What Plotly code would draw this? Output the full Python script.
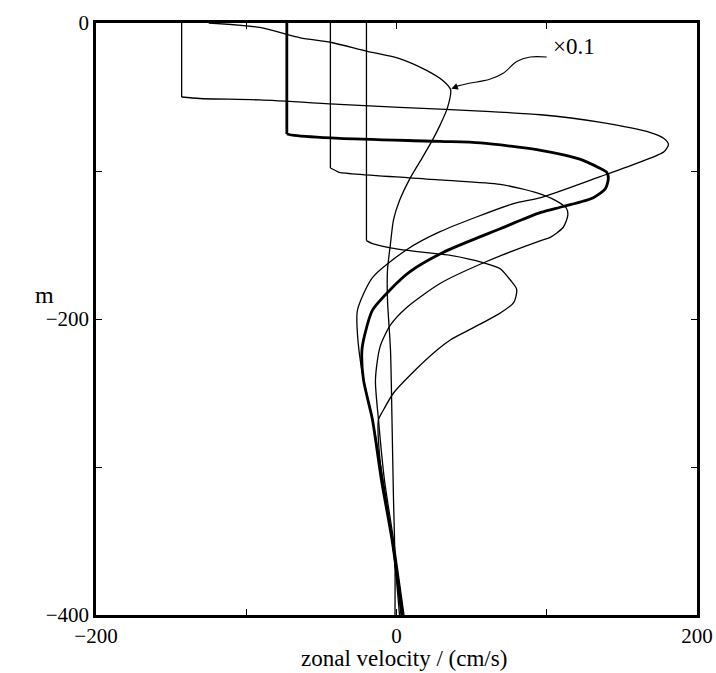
import plotly.graph_objects as go

# Profiles: zonal velocity (cm/s) vs depth (m); first two points = mixed-layer step
A_x = [-143, -143, -131, -91, -38, 2, 56, 96, 135, 169, 178, 181, 178, 162, 135, 96, 78, 29, 7, -16, -26, -26, -23, -16, -9, -3, 3]
A_d = [0, -50, -51, -52, -55, -57, -59.5, -62, -67, -74, -78, -82, -87, -94, -104, -118, -122, -141, -153, -172, -194, -210, -235, -268, -309, -349, -400]

B_x = [-73, -73, -68, -38, 29, 56, 96, 122, 135, 140, 141, 139, 131, 111, 96, 69, 31, 9, -4, -16, -21, -23, -22, -16, -10, -3, 4]
B_d = [0, -75, -76, -78, -80, -81, -86, -92, -98, -101, -105, -112, -118, -124, -128, -139, -155, -168, -180, -194, -210, -221, -241, -268, -309, -349, -400]

C_x = [-44, -44, -40, -38, 29, 69, 94, 106, 113, 114, 111, 102, 96, 58, 29, 7, -4, -11, -14, -12, -8, -2, 5]
C_d = [0, -98, -100, -101, -106, -109, -115, -120, -125, -130, -138, -145, -147, -162, -176, -192, -204, -219, -241, -268, -309, -349, -400]

D_x = [-20, -20, -16, 2, 36, 58, 69, 76, 80, 78, 69, 49, 36, 27, 9, -2, -9, -12, -11, -7, -2, 2]
D_d = [0, -147, -149, -153, -157, -162, -166, -174, -180, -189, -196, -207, -214, -221, -238, -250, -262, -268, -295, -322, -356, -400]

# curve plotted at 0.1 scale
E_x = [-125, -91, -64, -44, -20, 2, 20, 31, 36, 34, 29, 24, 16, 9, 2, -2, -4, -6, -6, -4, -3, -2, -1, -1]
E_d = [0, -3, -10, -13, -19, -24, -32, -39, -45, -57, -69, -79, -93, -105, -120, -133, -149, -167, -187, -221, -268, -322, -363, -400]

# curved pointer from the "x0.1" label to curve E
P_x = [100, 89, 80, 71, 62, 47, 39]
P_d = [-23, -23, -26, -34, -38, -41, -43]

x_ticks = [-200, -100, 0, 100, 200]
x_ticktext = ["\u2212200", "", "0", "", "200"]
y_ticks = [0, -100, -200, -300, -400]
y_ticktext = ["0", "", "\u2212200", "", "\u2212400"]

FONT = "Liberation Serif"

fig = go.Figure()
step_curves = [(A_x, A_d, 1.3), (B_x, B_d, 2.8), (C_x, C_d, 1.3), (D_x, D_d, 1.3)]
for xs, ds, w in step_curves:
    # mixed-layer step drawn straight, remainder smoothed
    fig.add_trace(go.Scatter(x=xs[:2], y=ds[:2], mode="lines",
                             line=dict(color="black", width=w),
                             showlegend=False, hoverinfo="skip"))
    fig.add_trace(go.Scatter(x=xs[1:], y=ds[1:], mode="lines",
                             line=dict(color="black", width=w, shape="spline", smoothing=0.7),
                             showlegend=False, hoverinfo="skip"))

fig.add_trace(go.Scatter(x=E_x, y=E_d, mode="lines",
                         line=dict(color="black", width=1.3, shape="spline", smoothing=0.7),
                         showlegend=False, hoverinfo="skip"))

fig.add_trace(go.Scatter(x=P_x, y=P_d, mode="lines",
                         line=dict(color="black", width=1.1, shape="spline", smoothing=1.0),
                         showlegend=False, hoverinfo="skip"))

fig.add_annotation(x=36.5, y=-44.5, ax=P_x[-1] + 2, ay=P_d[-1] + 0.3, xref="x", yref="y",
                   axref="x", ayref="y", text="", showarrow=True, arrowhead=2,
                   arrowsize=1.2, arrowwidth=1.1, arrowcolor="black", standoff=0)
fig.add_annotation(x=103, y=-16, xref="x", yref="y", text="\u00d70.1", showarrow=False,
                   xanchor="left", yanchor="middle", font=dict(family=FONT, size=23, color="black"))

fig.add_annotation(x=5, y=-0.073, xref="x", yref="paper",
                   text="zonal velocity / (cm/s)",
                   showarrow=False, xanchor="center", yanchor="middle",
                   font=dict(family=FONT, size=23, color="black"))
fig.add_annotation(x=-0.085, y=0.54, xref="paper", yref="paper", text="m",
                   showarrow=False, xanchor="center", yanchor="middle",
                   font=dict(family=FONT, size=24, color="black"))

axis_common = dict(showgrid=False, zeroline=False, showline=True, linecolor="black",
                   linewidth=2.5, mirror="ticks", ticks="inside", ticklen=6, tickwidth=1.3,
                   tickcolor="black", automargin=False,
                   tickfont=dict(family=FONT, size=21, color="black"))

fig.update_xaxes(range=[-200, 200], tickmode="array", tickvals=x_ticks, ticktext=x_ticktext,
                 **axis_common)
fig.update_yaxes(range=[-400, 0], tickmode="array", tickvals=y_ticks, ticktext=y_ticktext,
                 **axis_common)

fig.update_layout(width=716, height=673, margin=dict(l=96, r=19, t=23, b=58),
                  plot_bgcolor="white", paper_bgcolor="white",
                  font=dict(family=FONT, color="black"))

fig.write_html("out.html")
